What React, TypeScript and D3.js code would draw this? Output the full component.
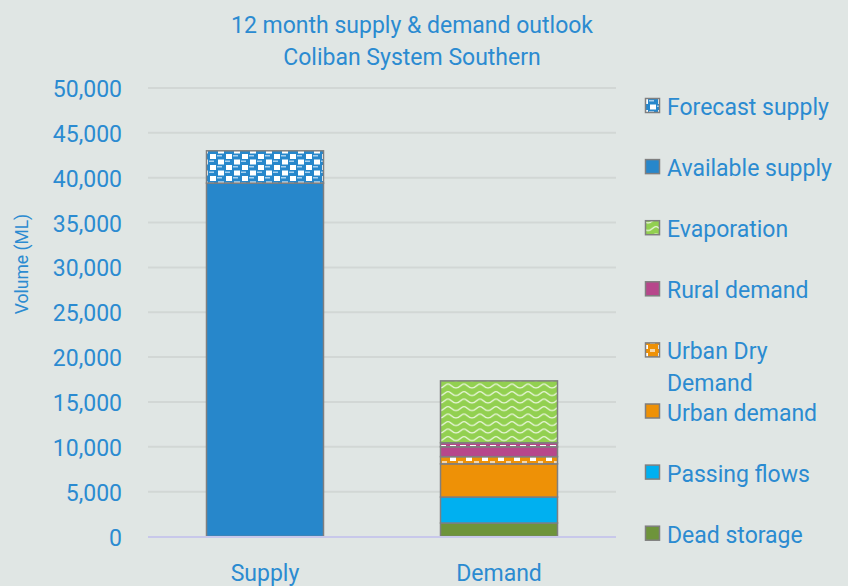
import React from "react";
import * as d3 from "d3";

const categories = ["Supply", "Demand"];
const deadStorage = [0, 1500];
const passingFlows = [0, 2900];
const urbanDemand = [0, 3700];
const urbanDryDemand = [0, 800];
const ruralDemand = [0, 1100];
const ruralDryDemand = [0, 450];
const evaporation = [0, 6900];
const availableSupply = [39400, 0];
const forecastSupply = [3600, 0];
const yTicks = [0, 5000, 10000, 15000, 20000, 25000, 30000, 35000, 40000, 45000, 50000];

const seriesKeys = ["dead", "passing", "urban", "urbanDry", "rural", "ruralDry", "evap", "available", "forecast"];
const seriesValues: Record<string, number[]> = {
  dead: deadStorage,
  passing: passingFlows,
  urban: urbanDemand,
  urbanDry: urbanDryDemand,
  rural: ruralDemand,
  ruralDry: ruralDryDemand,
  evap: evaporation,
  available: availableSupply,
  forecast: forecastSupply,
};
const fills: Record<string, string> = {
  dead: "#6e943b",
  passing: "#00b0f0",
  urban: "#ee9106",
  urbanDry: "url(#pUrbanDry)",
  rural: "#b7478b",
  ruralDry: "url(#pRuralDry)",
  evap: "url(#pEvap)",
  available: "#2787cb",
  forecast: "url(#pForecast)",
};
const legendItems: { key: string; lines: string[] }[] = [
  { key: "forecast", lines: ["Forecast supply"] },
  { key: "available", lines: ["Available supply"] },
  { key: "evap", lines: ["Evaporation"] },
  { key: "rural", lines: ["Rural demand"] },
  { key: "urbanDry", lines: ["Urban Dry", "Demand"] },
  { key: "urban", lines: ["Urban demand"] },
  { key: "passing", lines: ["Passing flows"] },
  { key: "dead", lines: ["Dead storage"] },
];

const W = 848;
const H = 586;
const TEXT = "#2b8bd1";
const FONT = "Roboto, 'Noto Sans', sans-serif";

export default function App() {
  const x = d3.scaleBand<string>().domain(categories).range([148, 616]).paddingInner(0.5).paddingOuter(0.25);
  const y = d3.scaleLinear().domain([0, 50000]).range([536.5, 88]);
  const table = categories.map((c, i) => {
    const row: Record<string, any> = { cat: c };
    seriesKeys.forEach((k) => (row[k] = seriesValues[k][i]));
    return row;
  });
  const stacked = d3.stack<any>().keys(seriesKeys)(table);
  const fmt = d3.format(",");

  return (
    <svg width={W} height={H} style={{ position: "absolute", left: 0, top: 0, background: "#e0e6e4" }} fontFamily={FONT}>
      <defs>
        <pattern id="pForecast" width="16" height="11" patternUnits="userSpaceOnUse">
          <rect width="16" height="11" fill="#2787cb" />
          <rect x="2" y="0" width="6" height="5" fill="#ffffff" />
          <rect x="10" y="5.5" width="6" height="5" fill="#ffffff" />
          <rect x="9" y="1" width="5" height="1.5" fill="#a8d0ee" />
          <rect x="1" y="6.5" width="5" height="1.5" fill="#a8d0ee" />
        </pattern>
        <pattern id="pEvap" width="16" height="7.5" patternUnits="userSpaceOnUse">
          <rect width="16" height="7.5" fill="#92d050" />
          <path d="M0 1.5 C3 1.5 4 5.5 8 5.5 S13 1.5 16 1.5" fill="none" stroke="#eef8e2" strokeWidth="1.3" />
        </pattern>
        <pattern id="pUrbanDry" width="16" height="8" patternUnits="userSpaceOnUse">
          <rect width="16" height="8" fill="#ee9106" />
          <rect x="2" y="1" width="6" height="4" fill="#ffffff" />
          <rect x="10" y="5" width="5" height="3" fill="#f6d6a8" />
        </pattern>
        <pattern id="pRuralDry" width="10" height="4" patternUnits="userSpaceOnUse">
          <rect width="10" height="4" fill="#b7478b" />
          <rect x="0" y="1" width="6" height="1.5" fill="#ffffff" />
        </pattern>
      </defs>

      <text x={412} y={33} textAnchor="middle" fontSize={23} fill={TEXT}>12 month supply &amp; demand outlook</text>
      <text x={412} y={65} textAnchor="middle" fontSize={23} fill={TEXT}>Coliban System Southern</text>

      {yTicks.filter((t) => t > 0).map((t) => (
        <line key={t} x1={148} x2={616} y1={y(t)} y2={y(t)} stroke="#d2d7d5" strokeWidth={2} />
      ))}

      {yTicks.map((t) => (
        <text key={t} x={122} y={y(t) + 9} textAnchor="end" fontSize={23} fill={TEXT}>{fmt(t)}</text>
      ))}

      <text transform={`translate(28,${264}) rotate(-90)`} textAnchor="middle" fontSize={17.5} fill={TEXT}>Volume (ML)</text>

      {stacked.map((s) =>
        s.map((d, i) => {
          const h = y(d[0]) - y(d[1]);
          if (h <= 0) return null;
          return (
            <rect
              key={s.key + i}
              x={x(categories[i])}
              y={y(d[1])}
              width={x.bandwidth()}
              height={h}
              fill={fills[s.key]}
              stroke="#7f7f7f"
              strokeWidth={1.5}
            />
          );
        })
      )}

      <line x1={148} x2={616} y1={537} y2={537} stroke="#c8c8ea" strokeWidth={2} />
      {categories.map((c) => (
        <text key={c} x={(x(c) || 0) + x.bandwidth() / 2} y={581} textAnchor="middle" fontSize={23} fill={TEXT}>{c}</text>
      ))}

      {legendItems.map((it, i) => {
        const top = 98.5 + i * 61.1;
        return (
          <g key={it.key}>
            <rect x={645.5} y={top} width={14} height={14} fill={fills[it.key]} stroke="#7f7f7f" strokeWidth={1.5} />
            {it.lines.map((ln, j) => (
              <text key={j} x={667} y={top + 16.5 + j * 31.5} fontSize={23} fill={TEXT}>{ln}</text>
            ))}
          </g>
        );
      })}
    </svg>
  );
}
